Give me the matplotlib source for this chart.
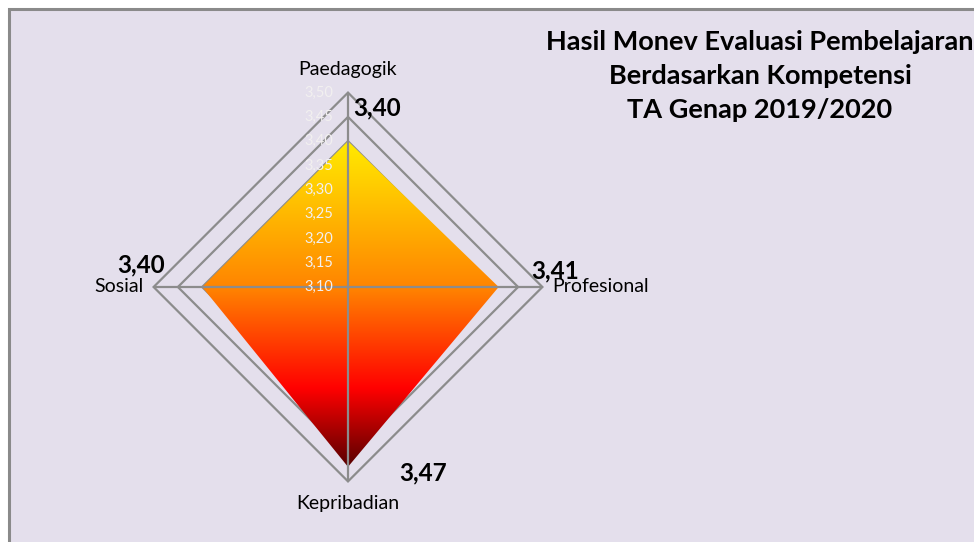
import numpy as np
import matplotlib
matplotlib.use("Agg")
import matplotlib.pyplot as plt
from matplotlib.patches import Polygon, Rectangle
from matplotlib.colors import LinearSegmentedColormap

# ---- data ----
categories = ["Paedagogik", "Profesional", "Kepribadian", "Sosial"]
values = [3.40, 3.41, 3.47, 3.40]
value_labels = ["3,40", "3,41", "3,47", "3,40"]
r_min, r_max, r_step = 3.10, 3.50, 0.05
title_lines = ["Hasil Monev Evaluasi Pembelajaran", "Berdasarkan Kompetensi", "TA Genap 2019/2020"]

FONT = "Lato"
W, H = 974, 542
fig = plt.figure(figsize=(W / 100, H / 100), dpi=100)
fig.patch.set_facecolor("white")

# chart area background with border (extends past right/bottom edges)
bg = Rectangle((8.5 / W, -0.05), 1.2, 1 - 8.5 / H + 0.05, transform=fig.transFigure,
               facecolor="#E4DFEC", edgecolor="#8A8A8A", linewidth=2.2, zorder=-10)
fig.patches.append(bg)

ax = fig.add_axes([0, 0, 1, 1])
ax.set_facecolor("none")
ax.axis("off")

# scale: pixels per unit of (value - r_min)
cx, cy = 348, 287
ppu = 24.3 / 0.05
ax.set_xlim(-cx / ppu, (W - cx) / ppu)
ax.set_ylim(-(H - cy) / ppu, cy / ppu)

# directions: top, right, bottom, left
dirs = np.array([[0, 1], [1, 0], [0, -1], [-1, 0]], dtype=float)

# grid rings
levels = np.arange(r_min + r_step, r_max + r_step / 2, r_step)
for lv in levels:
    pts = dirs * (lv - r_min)
    ax.add_patch(Polygon(pts, closed=True, fill=False, edgecolor="#8C8C8C",
                         linewidth=1.6, zorder=1))

# data polygon with gradient fill
vals = np.array(values) - r_min
pts = dirs * vals[:, None]
poly = Polygon(pts, closed=True, facecolor="none", edgecolor="none", zorder=2)
ax.add_patch(poly)
cmap = LinearSegmentedColormap.from_list(
    "grad", [(0.0, "#FFEB00"), (0.45, "#FF8400"), (0.76, "#FF0000"), (1.0, "#580000")])
grad = cmap(np.linspace(0, 1, 512))[:, None, :]
xmin, xmax = pts[:, 0].min(), pts[:, 0].max()
ymin, ymax = pts[:, 1].min(), pts[:, 1].max()
im = ax.imshow(grad, extent=[xmin, xmax, ymin, ymax], origin="upper",
               aspect="auto", zorder=2, interpolation="bilinear")
im.set_clip_path(poly)

# spokes
rmax = r_max - r_min
for d in dirs:
    ax.plot([0, d[0] * rmax], [0, d[1] * rmax], color="#8C8C8C", linewidth=1.6,
            zorder=3, solid_capstyle="butt")

# radial tick labels
for lv in np.arange(r_min, r_max + r_step / 2, r_step):
    ax.text(-15 / ppu, lv - r_min, f"{lv:.2f}".replace(".", ","), ha="right",
            va="center", fontsize=10.5, color="#F2F0F0", family=FONT, zorder=4)

# category labels
cat_pos = [(348, 70, "center", "center"), (552, 287, "left", "center"),
           (348, 503, "center", "center"), (144, 287, "right", "center")]
for name, (px, py, ha, va) in zip(categories, cat_pos):
    ax.text((px - cx) / ppu, (cy - py) / ppu, name, ha=ha, va=va, fontsize=14,
            family=FONT, color="#000000", zorder=5)

# value labels (offset from vertices, in pixels)
offsets = [(29, 33), (56, 16), (75, -6), (-61, 22)]
for p, lab, (ox, oy) in zip(pts, value_labels, offsets):
    ax.annotate(lab, xy=(p[0], p[1]), xytext=(ox * 0.72, oy * 0.72),
                textcoords="offset points", ha="center", va="center",
                fontsize=17.5, fontweight="bold", family=FONT, zorder=6)

# title
for i, line in enumerate(title_lines):
    fig.text(760 / W, 1 - (42 + 34 * i) / H, line, ha="center", va="center",
             fontsize=19.5, fontweight="bold", family=FONT)

fig.savefig("out.png", dpi=100, facecolor=fig.get_facecolor())
